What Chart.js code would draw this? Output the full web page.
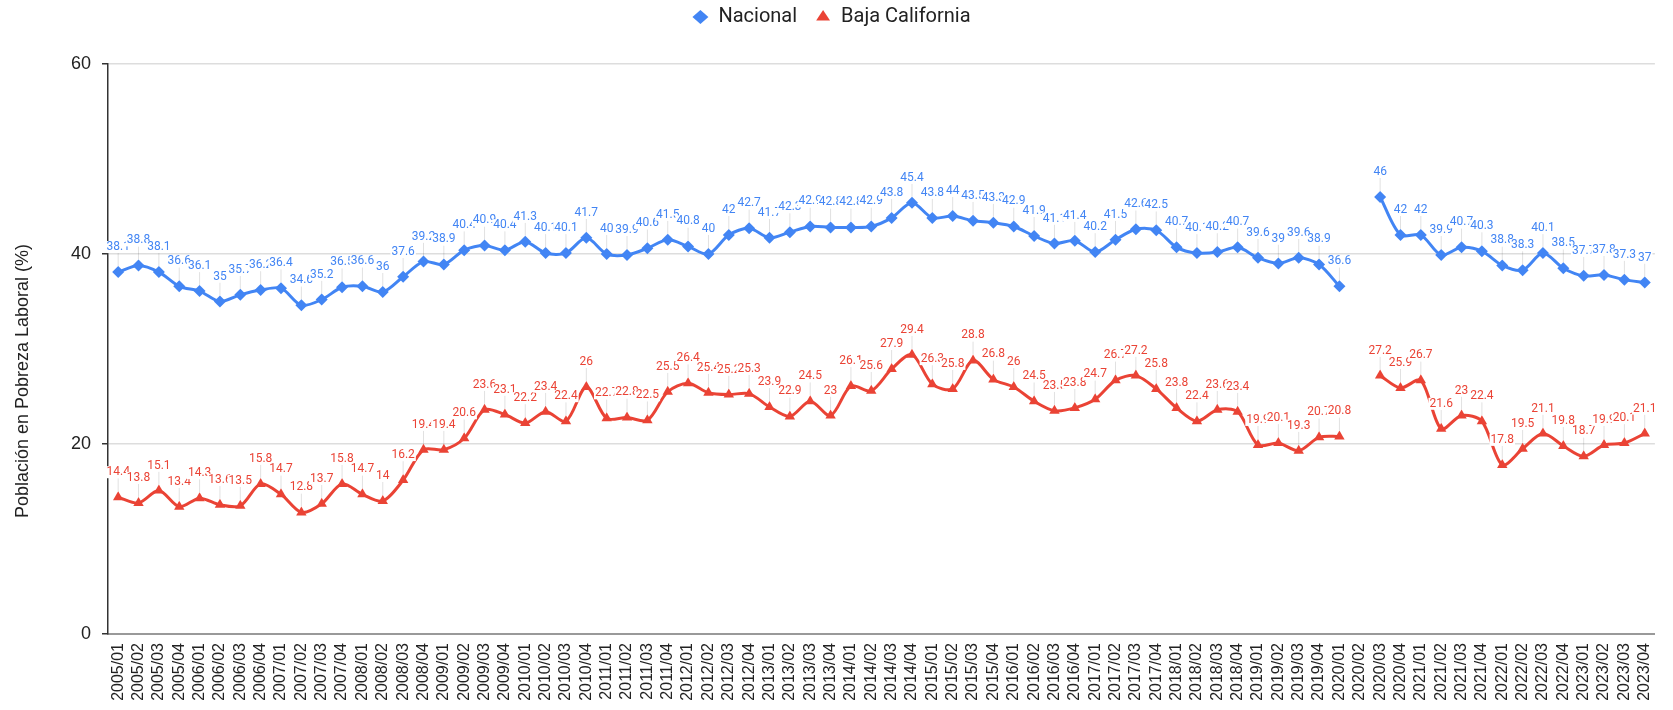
<!DOCTYPE html>
<html lang="es">
<head>
  <meta charset="UTF-8">
  <title>Población en Pobreza Laboral</title>
  <script src="https://cdn.jsdelivr.net/npm/chart.js"></script>
  <style>
    body { margin: 0; background: #fff; }
    canvas { display: block; }
  </style>
</head>
<body>
<canvas id="pobrezaChart" width="1673" height="710"></canvas>

<script>
  // trimestres 2005/01 .. 2023/04
  const years = [2005, 2006, 2007, 2008, 2009, 2010, 2011, 2012, 2013, 2014,
                 2015, 2016, 2017, 2018, 2019, 2020, 2021, 2022, 2023];
  const quarters = ['01', '02', '03', '04'];
  const labels = [];
  years.forEach(y => quarters.forEach(q => labels.push(y + '/' + q)));

  const nacional = [
    38.1, 38.8, 38.1, 36.6,  36.1, 35, 35.7, 36.2,  36.4, 34.6, 35.2, 36.5,
    36.6, 36, 37.6, 39.2,  38.9, 40.4, 40.9, 40.4,  41.3, 40.1, 40.1, 41.7,
    40, 39.9, 40.6, 41.5,  40.8, 40, 42, 42.7,  41.7, 42.3, 42.9, 42.8,
    42.8, 42.9, 43.8, 45.4,  43.8, 44, 43.5, 43.3,  42.9, 41.9, 41.1, 41.4,
    40.2, 41.5, 42.6, 42.5,  40.7, 40.1, 40.2, 40.7,  39.6, 39, 39.6, 38.9,
    36.6, null, 46, 42,  42, 39.9, 40.7, 40.3,  38.8, 38.3, 40.1, 38.5,
    37.7, 37.8, 37.3, 37
  ];

  const bajaCalifornia = [
    14.4, 13.8, 15.1, 13.4,  14.3, 13.6, 13.5, 15.8,  14.7, 12.8, 13.7, 15.8,
    14.7, 14, 16.2, 19.4,  19.4, 20.6, 23.6, 23.1,  22.2, 23.4, 22.4, 26,
    22.7, 22.8, 22.5, 25.5,  26.4, 25.4, 25.2, 25.3,  23.9, 22.9, 24.5, 23,
    26.1, 25.6, 27.9, 29.4,  26.3, 25.8, 28.8, 26.8,  26, 24.5, 23.5, 23.8,
    24.7, 26.7, 27.2, 25.8,  23.8, 22.4, 23.6, 23.4,  19.9, 20.1, 19.3, 20.7,
    20.8, null, 27.2, 25.9,  26.7, 21.6, 23, 22.4,  17.8, 19.5, 21.1, 19.8,
    18.7, 19.9, 20.1, 21.1
  ];

  const yTicks = [0, 20, 40, 60];
  const yTitle = 'Población en Pobreza Laboral (%)';

  const azul = '#4285F4';
  const rojo = '#EA4335';

  // etiquetas encima de cada punto, con linea guia y fondo blanco
  const valueLabels = {
    id: 'valueLabels',
    afterDatasetsDraw(chart) {
      const ctx = chart.ctx;
      ctx.save();
      ctx.font = '12px Roboto';
      ctx.textAlign = 'center';
      ctx.textBaseline = 'middle';
      chart.data.datasets.forEach((ds, i) => {
        const meta = chart.getDatasetMeta(i);
        meta.data.forEach((pt, j) => {
          const v = ds.data[j];
          if (v === null || v === undefined) return;
          const x = pt.x, y = pt.y;
          ctx.strokeStyle = 'rgba(0,0,0,0.12)';
          ctx.lineWidth = 1;
          ctx.beginPath();
          ctx.moveTo(x, y - 19);
          ctx.lineTo(x, y - 6);
          ctx.stroke();
          const txt = String(v);
          const w = ctx.measureText(txt).width;
          ctx.fillStyle = '#fff';
          ctx.fillRect(x - w / 2 - 1, y - 31, w + 2, 12);
          ctx.fillStyle = ds.borderColor;
          ctx.fillText(txt, x, y - 25);
        });
      });
      ctx.restore();
    }
  };

  // titulo del eje y, algo mas abajo que el centro del area
  const yAxisTitle = {
    id: 'yAxisTitle',
    afterDraw(chart) {
      const ctx = chart.ctx;
      ctx.save();
      ctx.translate(23, 381);
      ctx.rotate(-Math.PI / 2);
      ctx.font = '18px "Liberation Sans"';
      ctx.fillStyle = '#222';
      ctx.textAlign = 'center';
      ctx.textBaseline = 'middle';
      ctx.fillText(yTitle, 0, 0);
      ctx.restore();
    }
  };

  // espacio entre la leyenda y el grafico
  const legendSpace = {
    id: 'legendSpace',
    beforeLayout(chart) {
      const lg = chart.legend;
      if (lg && !lg._spaced) {
        const fit = lg.fit.bind(lg);
        lg.fit = function () { fit(); this.height = 75; };
        lg._spaced = true;
      }
    }
  };

  const ctx = document.getElementById('pobrezaChart').getContext('2d');
  new Chart(ctx, {
    type: 'line',
    data: {
      labels: labels,
      datasets: [{
        label: 'Nacional',
        data: nacional,
        borderColor: azul,
        backgroundColor: azul,
        borderWidth: 3,
        pointStyle: 'rectRot',
        pointRadius: 6,
        pointBorderWidth: 0,
        tension: 0.3,
        spanGaps: false
      }, {
        label: 'Baja California',
        data: bajaCalifornia,
        borderColor: rojo,
        backgroundColor: rojo,
        borderWidth: 3,
        pointStyle: 'triangle',
        pointRadius: 6,
        pointBorderWidth: 0,
        tension: 0.3,
        spanGaps: false
      }]
    },
    options: {
      responsive: false,
      animation: false,
      layout: { padding: { left: 0, right: 10, top: -11, bottom: 0 } },
      scales: {
        x: {
          offset: true,
          grid: { display: false, drawTicks: false },
          border: { display: true, color: '#999', width: 2 },
          ticks: {
            autoSkip: false,
            minRotation: 90,
            maxRotation: 90,
            padding: 9,
            color: '#222',
            font: { family: 'Liberation Sans', size: 16 }
          },
          afterFit: s => { s.height = 76; }
        },
        y: {
          min: 0,
          max: 60,
          afterBuildTicks: s => { s.ticks = yTicks.map(v => ({ value: v })); },
          grid: { color: '#ddd', lineWidth: 1.5, tickLength: 6, tickColor: '#333', tickWidth: 1.5 },
          border: { display: true, color: '#333', width: 1.5 },
          ticks: {
            padding: 11,
            color: '#222',
            font: { family: 'Liberation Sans', size: 18 }
          },
          afterFit: s => { s.width = 108; }
        }
      },
      plugins: {
        legend: {
          position: 'top',
          labels: {
            usePointStyle: true,
            pointStyleWidth: 16,
            boxWidth: 16,
            boxHeight: 10,
            padding: 18,
            color: '#222',
            font: { family: 'Roboto', size: 20 }
          }
        },
        tooltip: { enabled: false }
      }
    },
    plugins: [valueLabels, yAxisTitle, legendSpace]
  });
</script>
</body>
</html>
